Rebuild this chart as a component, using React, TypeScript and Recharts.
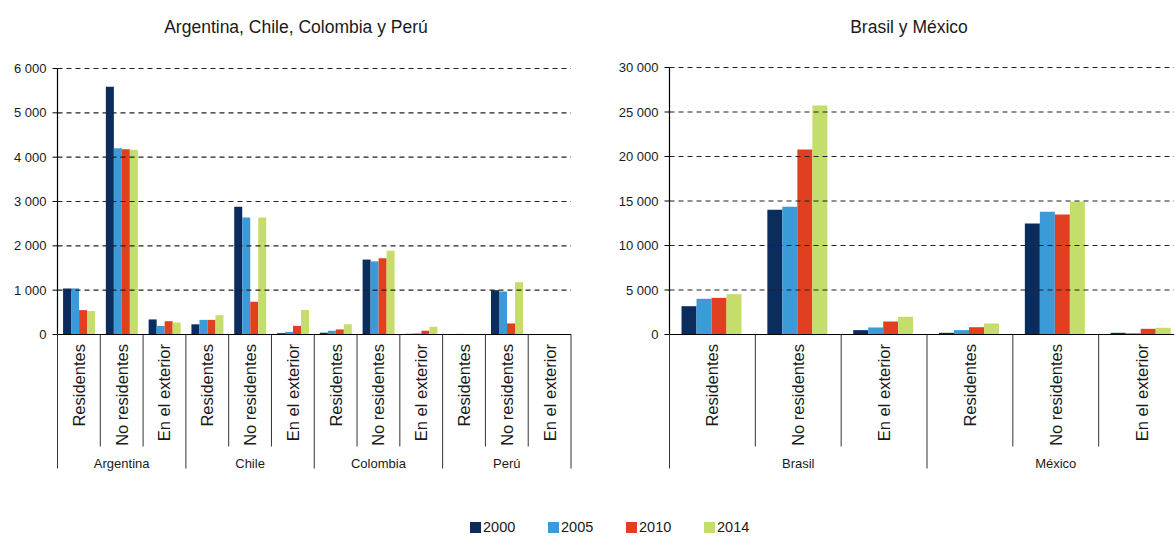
import React from 'react';
import { BarChart, Bar, XAxis, YAxis, ReferenceLine } from 'recharts';

const years = ['2000', '2005', '2010', '2014'];
const colors = ['#0b2d5e', '#3a9bd8', '#e0401f', '#c5dd6b'];
const subLabels = ['Residentes', 'No residentes', 'En el exterior'];

const leftGroups = ['Argentina', 'Chile', 'Colombia', 'Perú'];
const left2000 = [1040, 5590, 340, 230, 2880, 30, 40, 1690, 15, 10, 1000, 10];
const left2005 = [1040, 4200, 195, 330, 2640, 60, 85, 1650, 25, 15, 970, 10];
const left2010 = [550, 4180, 300, 330, 740, 195, 115, 1720, 85, 10, 250, 5];
const left2014 = [530, 4165, 270, 435, 2640, 555, 230, 1890, 175, 10, 1180, 5];
const leftTicks = [0, 1000, 2000, 3000, 4000, 5000, 6000];

const rightGroups = ['Brasil', 'México'];
const right2000 = [3180, 14010, 490, 190, 12470, 190];
const right2005 = [4010, 14340, 790, 490, 13780, 150];
const right2010 = [4120, 20790, 1460, 820, 13480, 640];
const right2014 = [4530, 25730, 1990, 1240, 14940, 750];
const rightTicks = [0, 5000, 10000, 15000, 20000, 25000, 30000];

const FONT = '"Liberation Sans", Arial, Helvetica, sans-serif';
const TEXT = '#1a1a1a';

type Row = { key: string; group: string; sub: string; si: number; [k: string]: any };

function buildRows(groups: string[], series: number[][]): Row[] {
  const rows: Row[] = [];
  groups.forEach((g, gi) => {
    subLabels.forEach((s, si) => {
      const i = gi * 3 + si;
      const r: Row = { key: g + '|' + s, group: g, sub: s, si };
      years.forEach((y, yi) => {
        r['y' + y] = series[yi][i];
      });
      rows.push(r);
    });
  });
  return rows;
}

const leftRows = buildRows(leftGroups, [left2000, left2005, left2010, left2014]);
const rightRows = buildRows(rightGroups, [right2000, right2005, right2010, right2014]);

const fmt = (v: number) => String(v).replace(/\B(?=(\d{3})+(?!\d))/g, ' ');

function makeTick(rows: Row[], fallbackHalf: number) {
  return (props: any) => {
    const { x, y, payload } = props;
    const i = props.index ?? payload?.index ?? 0;
    const half = payload && payload.offset ? payload.offset : fallbackHalf;
    const row = rows[i];
    if (!row) return <g />;
    const px = x + 6;
    const py = y + 9.5;
    const longEnd = y + 134;
    const shortEnd = y + 112;
    return (
      <g>
        <line x1={x - half} y1={y} x2={x - half} y2={row.si === 0 ? longEnd : shortEnd} stroke="#333" strokeWidth={1} />
        {i === rows.length - 1 && (
          <line x1={x + half} y1={y} x2={x + half} y2={longEnd} stroke="#333" strokeWidth={1} />
        )}
        <text
          x={px}
          y={py}
          transform={`rotate(-90, ${px}, ${py})`}
          textAnchor="end"
          fontSize={16.5}
          fontFamily={FONT}
          fill={TEXT}
        >
          {row.sub}
        </text>
        {row.si === 1 && (
          <text x={x} y={y + 133} textAnchor="middle" fontSize={13} fontFamily={FONT} fill={TEXT}>
            {row.group}
          </text>
        )}
      </g>
    );
  };
}

function Panel(props: {
  rows: Row[];
  ticks: number[];
  left: number;
  width: number;
  yWidth: number;
  rightMargin: number;
  top: number;
  gap: string;
}) {
  const { rows, ticks, left, width, yWidth, rightMargin, top, gap } = props;
  const plotW = width - yWidth - rightMargin;
  const half = plotW / rows.length / 2;
  return (
    <div style={{ position: 'absolute', left, top: 0 }}>
      <BarChart
        width={width}
        height={500}
        data={rows}
        margin={{ top, right: rightMargin, left: 0, bottom: 0 }}
        barCategoryGap={gap}
        barGap={0}
      >
        <XAxis
          dataKey="key"
          interval={0}
          height={165.5}
          tickSize={0}
          tickMargin={0}
          tickLine={false}
          axisLine={{ stroke: '#000', strokeWidth: 1.2 }}
          tick={makeTick(rows, half)}
        />
        <YAxis
          width={yWidth}
          domain={[ticks[0], ticks[ticks.length - 1]]}
          ticks={ticks}
          interval={0}
          tickFormatter={fmt}
          tickSize={5}
          tickMargin={6}
          axisLine={{ stroke: '#000', strokeWidth: 1.2 }}
          tickLine={{ stroke: '#000' }}
          tick={{ fontSize: 13, fill: TEXT, fontFamily: FONT }}
        />
        {ticks.slice(1).map((t) => (
          <ReferenceLine key={'g' + t} y={t} stroke="#222" strokeWidth={1.2} strokeDasharray="5 4" ifOverflow="visible" />
        ))}
        {years.map((y, yi) => (
          <Bar key={y} dataKey={'y' + y} name={y} fill={colors[yi]} isAnimationActive={false} />
        ))}
      </BarChart>
    </div>
  );
}

export default function App() {
  return (
    <div
      style={{
        position: 'absolute',
        left: 0,
        top: 0,
        width: 1174,
        height: 537,
        overflow: 'hidden',
        background: '#fff',
        fontFamily: FONT,
      }}
    >
      <div
        style={{
          position: 'absolute',
          left: 96,
          width: 400,
          top: 16,
          textAlign: 'center',
          fontSize: 17.5,
          color: TEXT,
          lineHeight: '22px',
        }}
      >
        Argentina, Chile, Colombia y Perú
      </div>
      <div
        style={{
          position: 'absolute',
          left: 709,
          width: 400,
          top: 16,
          textAlign: 'center',
          fontSize: 17.5,
          color: TEXT,
          lineHeight: '22px',
        }}
      >
        Brasil y México
      </div>
      <Panel rows={leftRows} ticks={leftTicks} left={0} width={590} yWidth={57.5} rightMargin={19} top={68.5} gap="13%" />
      <Panel rows={rightRows} ticks={rightTicks} left={590} width={610} yWidth={79.5} rightMargin={15.5} top={67.5} gap="14%" />
      <div style={{ position: 'absolute', left: 470, top: 518, display: 'flex' }}>
        {years.map((y, yi) => (
          <div key={y} style={{ width: 78, display: 'flex', alignItems: 'center' }}>
            <div style={{ width: 11, height: 11, background: colors[yi], marginRight: 2 }} />
            <span style={{ fontSize: 14.5, color: TEXT, lineHeight: '18px' }}>{y}</span>
          </div>
        ))}
      </div>
    </div>
  );
}
